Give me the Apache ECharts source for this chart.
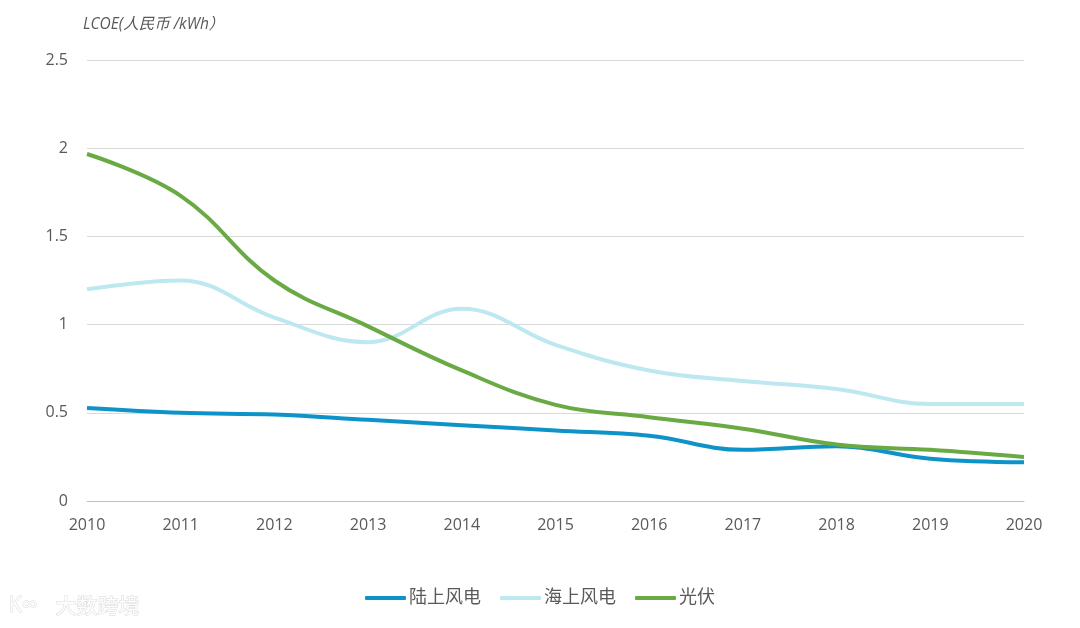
<!DOCTYPE html>
<html><head><meta charset="utf-8">
<script src="https://cdn.jsdelivr.net/npm/echarts@6/dist/echarts.min.js"></script>
<style>html,body{margin:0;padding:0;background:#fff}#c{width:1080px;height:628px}</style>
</head><body><div id="c"></div>
<script>
const years = ['2010','2011','2012','2013','2014','2015','2016','2017','2018','2019','2020'];
const onshore = [0.527,0.50,0.49,0.46,0.43,0.40,0.37,0.29,0.31,0.24,0.22];
const offshore = [1.20,1.25,1.04,0.90,1.09,0.885,0.74,0.68,0.635,0.55,0.55];
const solar = [1.967,1.73,1.25,0.99,0.74,0.545,0.475,0.41,0.32,0.29,0.25];
const seriesNames = ['陆上风电','海上风电','光伏'];
const colors = ['#0e93c8','#bde8f0','#6aaa45'];

const font = '"Open Sans","Noto Sans CJK SC",sans-serif';
const chart = echarts.init(document.getElementById('c'));
const mk = (name, data, color) => ({
  name, type: 'line', data, smooth: 0.4, symbol: 'none',
  lineStyle: {width: 4, color}, itemStyle: {color}
});
chart.setOption({
  animation: false,
  textStyle: {fontFamily: font},
  grid: {left: 87, right: 56, top: 60, bottom: 127, containLabel: false},
  graphic: [
    {type: 'text', left: 83, top: 17, style: {text: 'LCOE(人民币 /kWh）', fontSize: 15.5, fontStyle: 'italic', fill: '#595959', fontFamily: font}},
    {type: 'text', left: 8, top: 594, style: {text: 'K∞', fontSize: 22, fill: '#ffffff', stroke: '#d8d8d8', lineWidth: 1, fontFamily: font}},
    {type: 'text', left: 55, top: 594, style: {text: '大数跨境', fontSize: 21, fill: '#ffffff', stroke: '#d8d8d8', lineWidth: 1, fontFamily: '"Noto Sans CJK SC"'}}
  ],
  legend: {
    bottom: 16, left: 'center', itemWidth: 41, itemHeight: 4, itemGap: 19,
    icon: 'roundRect',
    textStyle: {fontSize: 18, color: '#595959', fontFamily: font, padding: [0, 0, 0, -2]},
    data: seriesNames
  },
  xAxis: {
    type: 'category', data: years, boundaryGap: false,
    axisLine: {lineStyle: {color: '#bfbfbf'}}, axisTick: {show: false},
    axisLabel: {fontSize: 16, color: '#595959', margin: 16}
  },
  yAxis: {
    type: 'value', min: 0, max: 2.5, interval: 0.5,
    axisLine: {show: false}, axisTick: {show: false},
    axisLabel: {fontSize: 16, color: '#595959', margin: 19},
    splitLine: {lineStyle: {color: '#d9d9d9', width: 1}}
  },
  series: [
    mk(seriesNames[0], onshore, colors[0]),
    mk(seriesNames[1], offshore, colors[1]),
    mk(seriesNames[2], solar, colors[2])
  ]
});
</script></body></html>
